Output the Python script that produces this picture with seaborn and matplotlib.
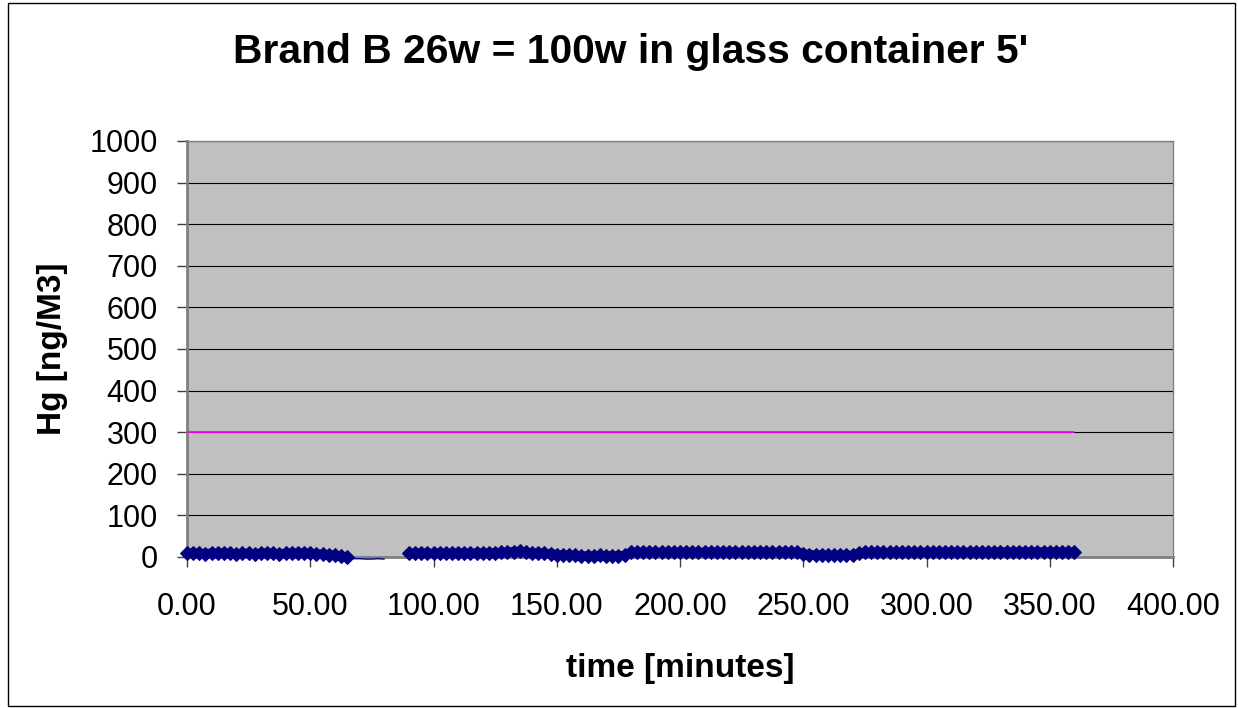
import numpy as np
import pandas as pd
import matplotlib
matplotlib.use('Agg')
import matplotlib.pyplot as plt
import seaborn as sns
from matplotlib.patches import Rectangle

# readings every 2.5 minutes, NaN where the analyser had no reading
time_min = np.arange(0, 362.5, 2.5)
hg = [9, 10, 9, 8, 10, 9, 10, 9, 8, 9,
      9, 8, 9, 10, 9, 8, 9, 10, 9, 10,
      9, 8, 7, 6, 4, 2, 0, np.nan, np.nan, np.nan,
      np.nan, np.nan, np.nan, np.nan, np.nan, np.nan, 9, 9, 10, 9,
      9, 10, 9, 9, 10, 9, 9, 10, 9, 10,
      10, 11, 12, 13, 14, 12, 9, 10, 9, 8,
      6, 5, 4, 4, 3, 3, 3, 4, 3, 3,
      3, 4, 11, 12, 11, 12, 11, 12, 12, 11,
      12, 11, 12, 12, 11, 12, 12, 11, 12, 12,
      11, 12, 12, 13, 12, 11, 12, 12, 11, 12,
      8, 6, 5, 5, 4, 4, 4, 5, 4, 10,
      11, 11, 12, 11, 11, 12, 11, 12, 11, 11,
      12, 11, 12, 11, 12, 12, 11, 12, 12, 11,
      12, 12, 13, 12, 12, 13, 12, 12, 13, 12,
      12, 13, 12, 12, 12]

# low readings without markers
thin_t = [65, 67.5, 70, 72.5, 75, 77.5, 80]
thin_hg = [-3, -4, -4, -5, -5, -4, -5]

# 300 ng/M3 reference level
limit_t = [0, 360]
limit_hg = [300, 300]

df = pd.DataFrame({'time': time_min, 'hg': hg})
df['part'] = np.where(df['time'] < 90, 'a', 'b')
df = df.dropna()

sns.set_style('white')
plt.rcParams['font.family'] = ['Liberation Sans', 'DejaVu Sans']
plt.rcParams['text.color'] = 'black'
plt.rcParams['xtick.labelcolor'] = 'black'
plt.rcParams['ytick.labelcolor'] = 'black'

fig = plt.figure(figsize=(12.38, 7.08), dpi=100)
ax = fig.add_axes([187 / 1238, 151 / 708, 986 / 1238, 416 / 708])
ax.set_facecolor('#C0C0C0')

for part, grp in df.groupby('part'):
    sns.lineplot(x='time', y='hg', data=grp, ax=ax, color='#000080',
                 marker='D', markersize=7.5, markeredgecolor='#000080',
                 linewidth=6.5, estimator=None, sort=False, zorder=4,
                 clip_on=False)
sns.lineplot(x=thin_t, y=thin_hg, ax=ax, color='#000080', linewidth=1,
             estimator=None, zorder=4, clip_on=False)
sns.lineplot(x=limit_t, y=limit_hg, ax=ax, color='#FF00FF', linewidth=1.3,
             estimator=None, zorder=3)

ax.set_xlim(0, 400)
ax.set_ylim(0, 1000)
ax.set_xticks(range(0, 401, 50))
ax.set_xticklabels([f'{v:.2f}' for v in range(0, 401, 50)])
ax.set_yticks(range(0, 1001, 100))
ax.yaxis.grid(True, color='black', linewidth=0.8)
ax.set_axisbelow(True)
for s in ax.spines.values():
    s.set_color('#808080')
    s.set_linewidth(1)
ax.spines['left'].set_linewidth(2)
ax.spines['bottom'].set_linewidth(2)
ax.tick_params(axis='both', direction='out', length=7, width=1,
               color='#404040', labelsize=22, left=True, bottom=True)
ax.tick_params(axis='y', pad=14)
ax.tick_params(axis='x', pad=18)
ax.set_xlabel('')
ax.set_ylabel('')

fig.text(631 / 1238, 1 - 52 / 708, "Brand B 26w = 100w in glass container 5'",
         ha='center', va='center', fontsize=29.3, fontweight='bold')
fig.text(680 / 1238, 1 - 668 / 708, 'time [minutes]', ha='center', va='center',
         fontsize=24, fontweight='bold')
fig.text(52 / 1238, 1 - 349 / 708, 'Hg [ng/M3]', ha='center', va='center',
         fontsize=24, fontweight='bold', rotation=90)

fig.patches.append(Rectangle((8 / 1238, 2 / 708), 1227 / 1238, 703 / 708,
                             transform=fig.transFigure, fill=False,
                             edgecolor='black', linewidth=1))

fig.savefig('out.png', dpi=100)
